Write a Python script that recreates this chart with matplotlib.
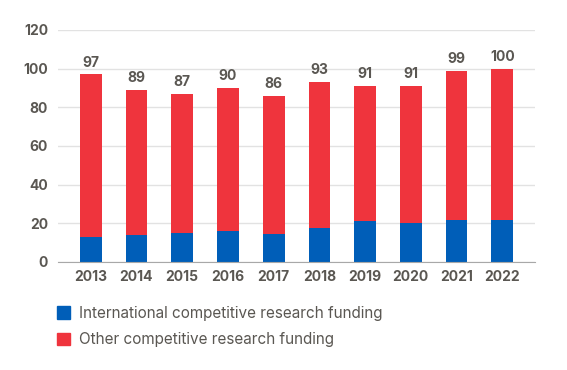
import matplotlib.pyplot as plt
from matplotlib.patches import Patch

plt.rcParams['font.family'] = ['Inter', 'DejaVu Sans']

years = ['2013', '2014', '2015', '2016', '2017', '2018', '2019', '2020', '2021', '2022']
international = [13, 14, 15, 16, 14.6, 17.4, 21, 20, 21.8, 21.8]
totals = [97, 89, 87, 90, 86, 93, 91, 91, 99, 100]
other = [t - i for t, i in zip(totals, international)]

BLUE = '#005EB8'
RED = '#EF343D'
TEXT = '#5a5752'

fig = plt.figure(figsize=(5.67, 3.70), dpi=100)
ax = fig.add_axes([0.102, 0.292, 0.842, 0.627])

x = range(len(years))
ax.bar(x, international, width=0.475, color=BLUE, zorder=3)
ax.bar(x, other, width=0.475, bottom=international, color=RED, zorder=3)

# totals above bars
for xi, t in zip(x, totals):
    ax.text(xi, t + 2.5, str(t), ha='center', va='bottom',
            fontsize=10, fontweight='bold', color=TEXT)

ax.set_ylim(0, 120)
ax.set_xlim(-0.72, len(years) - 0.28)
ax.set_yticks(range(0, 121, 20))
ax.set_xticks(list(x))
ax.set_xticklabels(years)
ax.tick_params(length=0, labelsize=10, labelcolor=TEXT)
ax.tick_params(axis='x', pad=6)
ax.tick_params(axis='y', pad=7)
for lbl in ax.get_xticklabels() + ax.get_yticklabels():
    lbl.set_fontweight('bold')

ax.grid(axis='y', color='#e2e2e2', linewidth=1, zorder=0)
for s in ['top', 'right', 'left']:
    ax.spines[s].set_visible(False)
ax.spines['bottom'].set_color('#a8a8a8')
ax.spines['bottom'].set_zorder(4)

handles = [Patch(color=BLUE, label='International competitive research funding'),
           Patch(color=RED, label='Other competitive research funding')]
fig.legend(handles=handles, loc='upper left', bbox_to_anchor=(0.09, 0.19),
           frameon=False, fontsize=11, labelcolor=TEXT,
           handlelength=0.85, handleheight=0.85, handletextpad=0.6,
           labelspacing=0.75, borderaxespad=0)

fig.savefig('out.png', dpi=100)
